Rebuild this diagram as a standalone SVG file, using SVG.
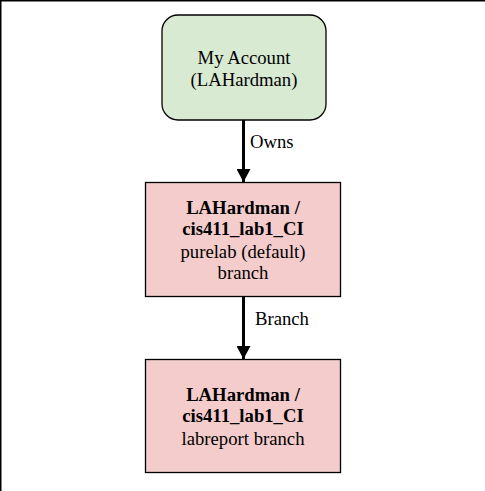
<svg xmlns="http://www.w3.org/2000/svg" width="485" height="491" viewBox="0 0 485 491">
<style>
.t{font-family:"Liberation Serif","Times New Roman",serif;font-size:18.7px;fill:#000;text-anchor:middle}
.b{font-weight:bold}
.l{font-family:"Liberation Serif","Times New Roman",serif;font-size:18.7px;fill:#000}
.box{stroke:#000;stroke-width:1.3}
.edge{stroke:#000;stroke-width:3;fill:none}
</style>
<defs>
<marker id="arr" markerUnits="userSpaceOnUse" markerWidth="14" markerHeight="14" refX="13" refY="7" orient="auto">
<path d="M0,0 L13,7 L0,14 Z" fill="#000"/>
</marker>
</defs>
<rect x="0" y="0" width="485" height="491" fill="#fff"/>
<line x1="0" y1="0.75" x2="485" y2="0.75" stroke="#000" stroke-width="1.5"/>
<line x1="0.75" y1="0" x2="0.75" y2="491" stroke="#000" stroke-width="1.5"/>
<g id="connectors">
<line class="edge" x1="243.5" y1="120" x2="243.5" y2="182" marker-end="url(#arr)"/>
<text class="l" x="250" y="148">Owns</text>
<line class="edge" x1="243.5" y1="296" x2="243.5" y2="359" marker-end="url(#arr)"/>
<text class="l" x="255" y="325">Branch</text>
</g>
<g id="account">
<rect class="box" x="162" y="15" width="164" height="105" rx="16" fill="#d9ead3"/>
<text class="t" x="244" y="64">My Account</text>
<text class="t" x="244" y="86">(LAHardman)</text>
</g>
<g id="purelab">
<rect class="box" x="145.5" y="182.5" width="195" height="114" fill="#f4cccc"/>
<text class="t b" x="243" y="214">LAHardman /</text>
<text class="t b" x="243" y="235">cis411_lab1_CI</text>
<text class="t" x="243" y="258">purelab (default)</text>
<text class="t" x="243" y="279">branch</text>
</g>
<g id="labreport">
<rect class="box" x="145.5" y="359.5" width="195" height="113" fill="#f4cccc"/>
<text class="t b" x="243" y="401">LAHardman /</text>
<text class="t b" x="243" y="422">cis411_lab1_CI</text>
<text class="t" x="243" y="445">labreport branch</text>
</g>
</svg>
